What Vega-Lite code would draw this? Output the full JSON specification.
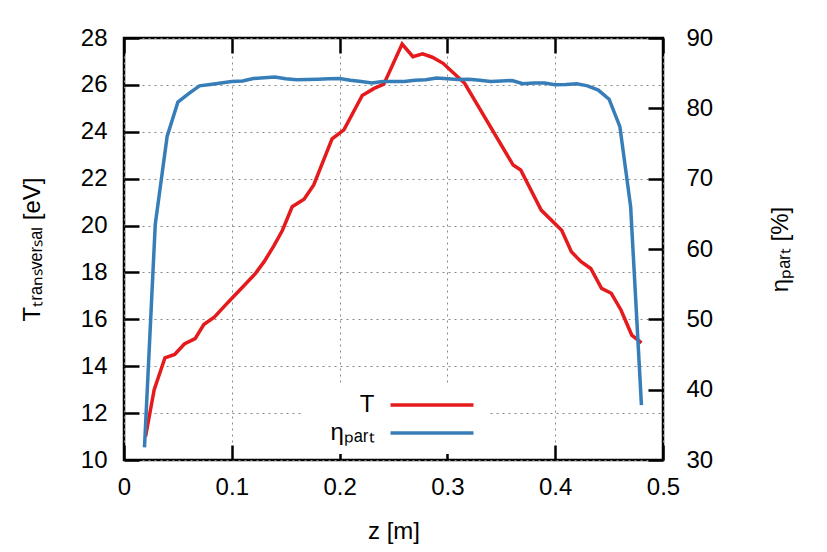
{
  "$schema": "https://vega.github.io/schema/vega-lite/v6.json",
  "width": 539,
  "height": 422,
  "autosize": {"type": "none"},
  "padding": {"left": 124, "top": 38, "right": 164, "bottom": 92},
  "background": "white",
  "data": {"values": [
    {"series": "T", "z": 0.020, "v": 11.0},
    {"series": "T", "z": 0.028, "v": 13.0},
    {"series": "T", "z": 0.038, "v": 14.36},
    {"series": "T", "z": 0.047, "v": 14.5},
    {"series": "T", "z": 0.056, "v": 14.95},
    {"series": "T", "z": 0.066, "v": 15.18},
    {"series": "T", "z": 0.074, "v": 15.78},
    {"series": "T", "z": 0.084, "v": 16.1},
    {"series": "T", "z": 0.093, "v": 16.55},
    {"series": "T", "z": 0.101, "v": 16.94},
    {"series": "T", "z": 0.111, "v": 17.42},
    {"series": "T", "z": 0.122, "v": 17.96},
    {"series": "T", "z": 0.130, "v": 18.46},
    {"series": "T", "z": 0.139, "v": 19.13},
    {"series": "T", "z": 0.147, "v": 19.8},
    {"series": "T", "z": 0.156, "v": 20.8},
    {"series": "T", "z": 0.167, "v": 21.12},
    {"series": "T", "z": 0.176, "v": 21.73},
    {"series": "T", "z": 0.193, "v": 23.7},
    {"series": "T", "z": 0.204, "v": 24.08},
    {"series": "T", "z": 0.221, "v": 25.55},
    {"series": "T", "z": 0.232, "v": 25.85},
    {"series": "T", "z": 0.241, "v": 26.03},
    {"series": "T", "z": 0.258, "v": 27.74},
    {"series": "T", "z": 0.268, "v": 27.2},
    {"series": "T", "z": 0.277, "v": 27.32},
    {"series": "T", "z": 0.286, "v": 27.18},
    {"series": "T", "z": 0.296, "v": 26.92},
    {"series": "T", "z": 0.316, "v": 26.07},
    {"series": "T", "z": 0.361, "v": 22.58},
    {"series": "T", "z": 0.368, "v": 22.37},
    {"series": "T", "z": 0.387, "v": 20.66},
    {"series": "T", "z": 0.406, "v": 19.8},
    {"series": "T", "z": 0.415, "v": 18.88},
    {"series": "T", "z": 0.424, "v": 18.46},
    {"series": "T", "z": 0.433, "v": 18.17},
    {"series": "T", "z": 0.443, "v": 17.32},
    {"series": "T", "z": 0.452, "v": 17.11},
    {"series": "T", "z": 0.461, "v": 16.4},
    {"series": "T", "z": 0.471, "v": 15.33},
    {"series": "T", "z": 0.480, "v": 15.0},
    {"series": "ηₚₐᵣₜ", "z": 0.019, "v": 31.8},
    {"series": "ηₚₐᵣₜ", "z": 0.029, "v": 63.5},
    {"series": "ηₚₐᵣₜ", "z": 0.04, "v": 76.0},
    {"series": "ηₚₐᵣₜ", "z": 0.05, "v": 80.9},
    {"series": "ηₚₐᵣₜ", "z": 0.06, "v": 82.1},
    {"series": "ηₚₐᵣₜ", "z": 0.07, "v": 83.2},
    {"series": "ηₚₐᵣₜ", "z": 0.08, "v": 83.4},
    {"series": "ηₚₐᵣₜ", "z": 0.09, "v": 83.6},
    {"series": "ηₚₐᵣₜ", "z": 0.10, "v": 83.8},
    {"series": "ηₚₐᵣₜ", "z": 0.11, "v": 83.9},
    {"series": "ηₚₐᵣₜ", "z": 0.12, "v": 84.25},
    {"series": "ηₚₐᵣₜ", "z": 0.13, "v": 84.35},
    {"series": "ηₚₐᵣₜ", "z": 0.14, "v": 84.45},
    {"series": "ηₚₐᵣₜ", "z": 0.15, "v": 84.2},
    {"series": "ηₚₐᵣₜ", "z": 0.16, "v": 84.05},
    {"series": "ηₚₐᵣₜ", "z": 0.17, "v": 84.1},
    {"series": "ηₚₐᵣₜ", "z": 0.18, "v": 84.15},
    {"series": "ηₚₐᵣₜ", "z": 0.19, "v": 84.2},
    {"series": "ηₚₐᵣₜ", "z": 0.20, "v": 84.25},
    {"series": "ηₚₐᵣₜ", "z": 0.21, "v": 84.0},
    {"series": "ηₚₐᵣₜ", "z": 0.22, "v": 83.8},
    {"series": "ηₚₐᵣₜ", "z": 0.23, "v": 83.6},
    {"series": "ηₚₐᵣₜ", "z": 0.24, "v": 83.8},
    {"series": "ηₚₐᵣₜ", "z": 0.25, "v": 83.8},
    {"series": "ηₚₐᵣₜ", "z": 0.26, "v": 83.8},
    {"series": "ηₚₐᵣₜ", "z": 0.27, "v": 84.0},
    {"series": "ηₚₐᵣₜ", "z": 0.28, "v": 84.05},
    {"series": "ηₚₐᵣₜ", "z": 0.29, "v": 84.3},
    {"series": "ηₚₐᵣₜ", "z": 0.30, "v": 84.2},
    {"series": "ηₚₐᵣₜ", "z": 0.31, "v": 84.1},
    {"series": "ηₚₐᵣₜ", "z": 0.32, "v": 84.13},
    {"series": "ηₚₐᵣₜ", "z": 0.33, "v": 84.0},
    {"series": "ηₚₐᵣₜ", "z": 0.34, "v": 83.8},
    {"series": "ηₚₐᵣₜ", "z": 0.35, "v": 83.9},
    {"series": "ηₚₐᵣₜ", "z": 0.36, "v": 83.95},
    {"series": "ηₚₐᵣₜ", "z": 0.37, "v": 83.5},
    {"series": "ηₚₐᵣₜ", "z": 0.38, "v": 83.6},
    {"series": "ηₚₐᵣₜ", "z": 0.39, "v": 83.6},
    {"series": "ηₚₐᵣₜ", "z": 0.40, "v": 83.35},
    {"series": "ηₚₐᵣₜ", "z": 0.41, "v": 83.4},
    {"series": "ηₚₐᵣₜ", "z": 0.42, "v": 83.5},
    {"series": "ηₚₐᵣₜ", "z": 0.43, "v": 83.2},
    {"series": "ηₚₐᵣₜ", "z": 0.44, "v": 82.6},
    {"series": "ηₚₐᵣₜ", "z": 0.45, "v": 81.3},
    {"series": "ηₚₐᵣₜ", "z": 0.46, "v": 77.4},
    {"series": "ηₚₐᵣₜ", "z": 0.47, "v": 66.0},
    {"series": "ηₚₐᵣₜ", "z": 0.48, "v": 37.8}
  ]},
  "layer": [
    {
      "transform": [{"filter": "datum.series === 'T'"}],
      "mark": {"type": "line", "strokeWidth": 3.5, "clip": false},
      "encoding": {
        "x": {"field": "z", "type": "quantitative",
          "scale": {"domain": [0, 0.5], "nice": false, "zero": false},
          "axis": {"orient": "bottom", "values": [0, 0.1, 0.2, 0.3, 0.4, 0.5], "format": "~g", "grid": true, "labelFlush": false, "title": "z [m]", "labelPadding": 30, "titlePadding": 20}},
        "y": {"field": "v", "type": "quantitative",
          "scale": {"domain": [10, 28], "nice": false, "zero": false},
          "axis": {"orient": "left", "values": [10, 12, 14, 16, 18, 20, 22, 24, 26, 28], "grid": true, "labelFlush": false, "title": "Tₜᵣₐₙₛᵥₑᵣₛₐₗ [eV]", "labelPadding": 32, "titlePadding": 36}},
        "color": {"field": "series", "type": "nominal",
          "scale": {"domain": ["T", "ηₚₐᵣₜ"], "range": ["#e41a1c", "#377eb8"]},
          "legend": {"orient": "none", "legendX": 177, "legendY": 346, "title": null,
            "symbolType": "M-4.15,0L4.15,0", "symbolSize": 400, "symbolStrokeWidth": 3.5,
            "symbolOffset": 110, "labelAlign": "right", "labelOffset": -69.5,
            "labelFont": "Liberation Sans", "labelFontSize": 24, "labelColor": "black",
            "fillColor": "white", "padding": 9, "rowPadding": 4}}
      }
    },
    {
      "transform": [{"filter": "datum.series !== 'T'"}],
      "mark": {"type": "line", "strokeWidth": 3.5, "clip": false},
      "encoding": {
        "x": {"field": "z", "type": "quantitative",
          "axis": {"orient": "top", "values": [0, 0.1, 0.2, 0.3, 0.4, 0.5], "labels": false, "grid": false, "title": null}},
        "y": {"field": "v", "type": "quantitative",
          "scale": {"domain": [30, 90], "nice": false, "zero": false},
          "axis": {"orient": "right", "values": [30, 40, 50, 60, 70, 80, 90], "grid": false, "labelFlush": false, "title": "ηₚₐᵣₜ [%]", "titleAngle": 270, "labelPadding": 38, "titlePadding": 80}},
        "color": {"field": "series", "type": "nominal"}
      }
    }
  ],
  "resolve": {"scale": {"y": "independent"}, "axis": {"x": "independent"}},
  "config": {
    "view": {"stroke": "black", "strokeWidth": 2.5},
    "axis": {"domain": false, "ticks": true, "tickColor": "black", "tickWidth": 2.5, "tickSize": -15,
      "labelFont": "Liberation Sans", "labelFontSize": 24, "labelColor": "black",
      "titleFont": "Liberation Sans", "titleFontSize": 24, "titleFontWeight": "normal", "titleColor": "black",
      "gridColor": "#888888", "gridDash": [2, 4], "gridWidth": 1, "gridOpacity": 1}
  }
}
